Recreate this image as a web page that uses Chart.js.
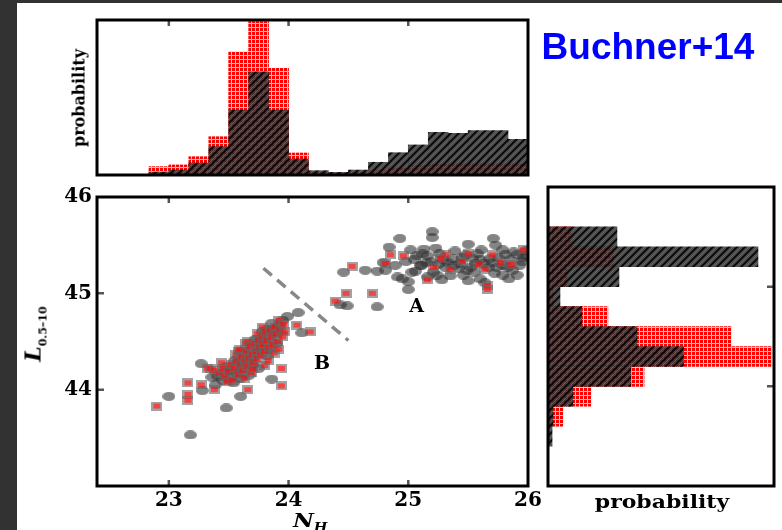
<!DOCTYPE html>
<html>
<head>
<meta charset="utf-8">
<script src="https://cdn.jsdelivr.net/npm/chart.js@4.4.1/dist/chart.umd.min.js"></script>
<style>
html,body{margin:0;padding:0;background:#323232;width:782px;height:530px;overflow:hidden;}
#page{position:absolute;left:17px;top:3px;width:765px;height:527px;background:#fff;}
.box{position:absolute;}
.lbl{position:absolute;font-family:'DejaVu Serif',serif;font-weight:bold;color:#000;white-space:nowrap;}
#title{position:absolute;left:648px;top:28px;transform:translateX(-50%);font-family:'Liberation Sans',Arial,sans-serif;font-weight:bold;font-size:37px;line-height:37px;color:#0000ff;white-space:nowrap;}
</style>
</head>
<body>
<div id="page"></div>
<div class="box" style="left:0;top:0;width:545px;height:182px"><canvas id="cTop"></canvas></div>
<div class="box" style="left:0;top:180px;width:545px;height:350px"><canvas id="cMain"></canvas></div>
<div class="box" style="left:540px;top:180px;width:242px;height:350px"><canvas id="cRight"></canvas></div>
<div id="title">Buchner+14</div>
<div class="lbl" style="left:79px;top:98px;font-size:16px;transform:translate(-50%,-50%) rotate(-90deg)">probability</div>
<div class="lbl" style="left:662px;top:501px;font-size:18px;transform:translate(-50%,-50%) scaleX(1.22)">probability</div>
<div class="lbl" style="left:293px;top:510px;line-height:20px;transform-origin:left top;transform:scaleX(1.2)"><i style="font-size:19px">N</i><i style="font-size:12px;position:relative;top:5px">H</i></div>
<div class="lbl" style="left:35px;top:334px;line-height:22px;transform:translate(-50%,-50%) rotate(-90deg)"><i style="font-size:22px">L</i><span style="font-size:11px;position:relative;top:6px">0.5–10</span></div>

<script>
// ---------- data ----------
// top histogram: N_H bin centres (bin width 1/6 dex) and relative probabilities
const nhBinCenters = [22.417,22.583,22.75,22.917,23.083,23.25,23.417,23.583,23.75,23.917,24.083,24.25,24.417,24.583,24.75,24.917,25.083,25.25,25.417,25.583,25.75,25.917];
const redTop   = [0.004,0.004,0.004,0.054,0.065,0.118,0.247,0.795,0.99,0.688,0.142,0.02,0.013,0.02,0.03,0.05,0.06,0.07,0.075,0.075,0.075,0.075];
const blackTop = [0.004,0.004,0.004,0.019,0.032,0.077,0.183,0.419,0.666,0.419,0.103,0.028,0.017,0.032,0.082,0.144,0.194,0.275,0.269,0.286,0.286,0.23];

// right histogram: L bin centres (bin width 0.2) and relative probabilities
const lBinCenters = [43.5,43.7,43.9,44.1,44.3,44.5,44.7,44.9,45.1,45.3,45.5];
const redRight    = [0,0.066,0.19,0.425,0.99,0.81,0.265,0.022,0.088,0.288,0.106];
const blackRight  = [0.018,0.022,0.11,0.367,0.60,0.394,0.15,0.053,0.314,0.929,0.305];

// scatter: [N_H, L]
const greyPoints = [
 [23.18,43.53],[23.00,43.93],[23.27,44.27],[23.28,43.99],[23.48,43.81],[23.60,43.93],[23.86,44.11],
 [24.08,44.80],[24.11,44.59],[23.99,44.76],
 [23.36,44.13],[23.41,44.14],[23.39,44.05],[23.45,44.10],[23.50,44.12],[23.54,44.07],[23.57,44.17],[23.62,44.22],
 [23.66,44.30],[23.70,44.26],[23.73,44.38],[23.77,44.42],[23.80,44.50],[23.84,44.55],[23.88,44.62],[23.92,44.66],
 [23.95,44.72],[23.86,44.69],[23.78,44.60],[23.69,44.45],[23.63,44.36],[23.58,44.28],[23.52,44.20],[23.47,44.18],
 [23.75,44.22],[23.82,44.35],[23.90,44.48],[23.60,44.12],[23.67,44.15],[23.72,44.52],[23.84,44.42],
 [23.55,44.30],[23.62,44.40],[23.76,44.50],[23.82,44.62],[23.70,44.34],[23.48,44.24],[23.90,44.58],
 [24.43,44.88],[24.49,44.87],[24.74,44.86],[24.46,45.22],[24.64,45.24],[24.74,45.23],[24.79,45.32],[24.81,45.24],
 [24.84,45.48],[24.93,45.57],[24.89,45.29],[24.98,45.33],[25.02,45.45],[25.07,45.39],[25.03,45.22],[24.91,45.17],
 [24.95,45.15],[25.00,45.12],[25.00,45.04],[25.10,45.29],
 [25.20,45.64],[25.20,45.58],[25.71,45.57],[25.73,45.50],[25.50,45.51],[25.13,45.46],[25.23,45.47],[25.39,45.44],
 [25.61,45.45],[25.79,45.45],[25.91,45.40],[25.98,45.44],[25.16,45.39],[25.29,45.35],[25.45,45.37],[25.60,45.35],
 [25.75,45.37],[25.85,45.35],[25.11,45.29],[25.38,45.29],[25.52,45.27],[25.67,45.27],[25.79,45.29],[25.93,45.29],
 [25.21,45.22],[25.46,45.19],[25.79,45.19],[25.91,45.19],[25.16,45.17],[25.28,45.14],[25.60,45.15],[25.64,45.11],
 [25.99,45.39],[25.33,45.32],[25.42,45.26],[25.56,45.31],[25.70,45.32],[25.83,45.27],[25.95,45.33],[25.25,45.30],
 [25.48,45.40],[25.88,45.43],[25.35,45.18],[25.55,45.22],[25.72,45.21],[25.06,45.23],[25.15,45.32],
 [25.05,45.35],[25.12,45.41],[25.19,45.33],[25.26,45.41],[25.31,45.27],[25.37,45.36],[25.43,45.31],[25.49,45.24],
 [25.54,45.36],[25.58,45.41],[25.63,45.31],[25.68,45.36],[25.74,45.27],[25.81,45.40],[25.87,45.24],[25.96,45.37],
 [25.24,45.19],[25.50,45.13],[25.84,45.15]
];
const redPoints = [
 [22.90,43.83],[23.16,44.07],[23.16,43.95],[23.16,43.89],[23.27,44.05],[23.38,44.00],[23.32,44.22],[23.66,44.00],
 [23.94,44.04],[23.94,44.22],[24.18,44.60],[24.07,44.67],
 [23.35,44.22],[23.38,44.20],[23.42,44.17],[23.44,44.28],[23.45,44.22],[23.47,44.14],[23.49,44.08],[23.50,44.19],
 [23.52,44.26],[23.53,44.10],[23.55,44.22],[23.56,44.36],[23.57,44.30],[23.58,44.16],[23.58,44.40],[23.59,44.42],
 [23.60,44.25],[23.61,44.34],[23.62,44.20],[23.63,44.12],[23.64,44.29],[23.64,44.48],[23.65,44.40],[23.66,44.24],
 [23.66,44.50],[23.67,44.33],[23.68,44.45],[23.69,44.18],[23.70,44.37],[23.70,44.22],[23.71,44.28],[23.72,44.48],
 [23.73,44.40],[23.74,44.32],[23.74,44.58],[23.75,44.52],[23.76,44.44],[23.77,44.36],[23.78,44.56],[23.78,44.65],
 [23.79,44.47],[23.80,44.40],[23.80,44.25],[23.81,44.60],[23.82,44.51],[23.83,44.30],[23.84,44.44],[23.85,44.62],
 [23.86,44.55],[23.87,44.47],[23.88,44.38],[23.89,44.65],[23.90,44.58],[23.91,44.50],[23.92,44.42],[23.92,44.72],
 [23.93,44.62],[23.95,44.55],[23.96,44.68],[23.97,44.60],
 [24.39,44.92],[24.48,45.00],[24.53,45.28],[24.70,45.00],[24.81,45.31],[24.85,45.40],[24.96,45.39],[25.31,45.40],
 [25.50,45.41],[25.70,45.40],[25.45,45.33],[25.59,45.30],[25.77,45.32],[25.21,45.27],[25.35,45.25],[25.64,45.25],
 [25.16,45.14],[25.66,45.08],[25.66,45.04],[25.27,45.36],[25.86,45.30],[25.96,45.45]
];
const dividerLine = [[23.79,45.26],[24.50,44.51]];
const regionLabels = [{text:'A', nh:25.07, l:44.86},{text:'B', nh:24.28, l:44.27}];

const xTickValues = [23,24,25,26];
const yTickValues = [44,45,46];
const xInnerTicks = [23,24,25];
const yInnerTicks = [44,45];

// ---------- styles ----------
const SERIF = "'DejaVu Serif', serif";
function makeRedPattern(){
  const c=document.createElement('canvas'); c.width=4; c.height=4;
  const g=c.getContext('2d');
  g.fillStyle='#ff0000'; g.fillRect(0,0,4,4);
  g.fillStyle='rgba(255,255,255,0.75)'; g.fillRect(3,0,1,4); g.fillRect(0,3,3,1);
  return g.createPattern(c,'repeat');
}
function makeBlackPattern(){
  const c=document.createElement('canvas'); c.width=8; c.height=8;
  const g=c.getContext('2d');
  g.fillStyle='rgba(50,50,50,0.88)'; g.fillRect(0,0,8,8);
  g.lineCap='square';
  g.strokeStyle='rgba(0,0,0,0.95)'; g.lineWidth=1.6;
  [[-1,9,9,-1],[-3,3,3,-3],[5,11,11,5]].forEach(s=>{g.beginPath();g.moveTo(s[0],s[1]);g.lineTo(s[2],s[3]);g.stroke();});
  g.strokeStyle='rgba(120,120,120,0.7)'; g.lineWidth=0.8;
  [[-1,5,5,-1],[3,9,9,3]].forEach(s=>{g.beginPath();g.moveTo(s[0],s[1]);g.lineTo(s[2],s[3]);g.stroke();});
  return g.createPattern(c,'repeat');
}
function makeEllipse(){
  const c=document.createElement('canvas'); c.width=13; c.height=9;
  const g=c.getContext('2d');
  g.fillStyle='rgba(50,50,50,0.6)';
  g.beginPath(); g.ellipse(6.5,4.5,6.5,4.5,0,0,Math.PI*2); g.fill();
  return c;
}
function makeSquare(){
  const c=document.createElement('canvas'); c.width=11; c.height=9;
  const g=c.getContext('2d');
  g.fillStyle='rgba(100,100,100,0.6)'; g.fillRect(0,0,11,9);
  g.clearRect(2,2,7,5);
  g.fillStyle='rgba(235,25,25,0.8)'; g.fillRect(2,2,7,5);
  return c;
}
const redPat = makeRedPattern();
const blackPat = makeBlackPattern();
const ellipseImg = makeEllipse();
const squareImg = makeSquare();

function makeFrame(cfg){
  return {
    id:'frame',
    afterDatasetsDraw(chart){
      const a=chart.chartArea, ctx=chart.ctx, sx=chart.scales.x, sy=chart.scales.y;
      ctx.save();
      ctx.strokeStyle='#555'; ctx.lineWidth=2.5;
      ctx.beginPath();
      (cfg.xTicks||[]).forEach(v=>{
        const p=sx.getPixelForValue(v);
        if(cfg.xTop){ctx.moveTo(p,a.top);ctx.lineTo(p,a.top+6);}
        if(cfg.xBottom){ctx.moveTo(p,a.bottom);ctx.lineTo(p,a.bottom-6);}
      });
      (cfg.yTicks||[]).forEach(v=>{
        const p=sy.getPixelForValue(v);
        if(cfg.yLeft){ctx.moveTo(a.left,p);ctx.lineTo(a.left+7,p);}
        if(cfg.yRight){ctx.moveTo(a.right,p);ctx.lineTo(a.right-7,p);}
      });
      ctx.stroke();
      ctx.strokeStyle='#000'; ctx.lineWidth=3;
      ctx.strokeRect(a.left,a.top,a.right-a.left,a.bottom-a.top);
      (cfg.labels||[]).forEach(t=>{
        ctx.font="bold 19px 'DejaVu Serif'"; ctx.fillStyle='#000';
        ctx.textAlign='center'; ctx.textBaseline='middle';
        ctx.fillText(t.text, sx.getPixelForValue(t.nh), sy.getPixelForValue(t.l));
      });
      ctx.restore();
    }
  };
}
const common = {responsive:true, maintainAspectRatio:false, animation:false, events:[],
  plugins:{legend:{display:false}, tooltip:{enabled:false}}};

// ---------- top histogram ----------
new Chart(document.getElementById('cTop'), {
  type:'bar',
  data:{datasets:[
    {data:nhBinCenters.map((x,i)=>({x:x,y:blackTop[i]})), backgroundColor:blackPat, borderWidth:0, order:0},
    {data:nhBinCenters.map((x,i)=>({x:x,y:redTop[i]})), backgroundColor:redPat, borderWidth:0, order:1}
  ]},
  options:Object.assign({}, common, {
    layout:{padding:{left:97,top:20,right:17,bottom:7}},
    datasets:{bar:{barPercentage:1,categoryPercentage:1,grouped:false}},
    scales:{
      x:{type:'linear',min:22.4,max:26,offset:false,display:false},
      y:{type:'linear',min:0,max:1,display:false}
    }
  }),
  plugins:[makeFrame({xTicks:xInnerTicks,xTop:true})]
});

// ---------- main scatter ----------
const tickFont = {family:SERIF, size:20, weight:'bold'};
new Chart(document.getElementById('cMain'), {
  type:'scatter',
  data:{datasets:[
    {type:'line', data:dividerLine.map(p=>({x:p[0],y:p[1]})), borderColor:'rgba(130,130,130,0.95)', borderWidth:3.5,
     borderDash:[11,7], pointRadius:0, fill:false, showLine:true, order:2},
    {data:greyPoints.map(p=>({x:p[0],y:p[1]})), pointStyle:ellipseImg, pointRadius:5, order:1},
    {data:redPoints.map(p=>({x:p[0],y:p[1]})), pointStyle:squareImg, pointRadius:5, order:0}
  ]},
  options:Object.assign({}, common, {
    layout:{padding:{left:37,top:7,right:17,bottom:14}},
    scales:{
      x:{type:'linear',min:22.4,max:26,
         afterBuildTicks:s=>{s.ticks=xTickValues.map(v=>({value:v}));},
         afterFit:s=>{s.height=30;},
         grid:{display:false,drawTicks:false}, border:{display:false},
         ticks:{font:tickFont,color:'#000',padding:3,maxRotation:0,autoSkip:false}},
      y:{type:'linear',min:43,max:46,
         afterBuildTicks:s=>{s.ticks=yTickValues.map(v=>({value:v}));},
         afterFit:s=>{s.width=60;},
         grid:{display:false,drawTicks:false}, border:{display:false},
         ticks:{font:tickFont,color:'#000',padding:5,autoSkip:false}}
    }
  }),
  plugins:[makeFrame({xTicks:xInnerTicks,xTop:true,xBottom:true,yTicks:yInnerTicks,yLeft:true,labels:regionLabels})]
});

// ---------- right histogram ----------
new Chart(document.getElementById('cRight'), {
  type:'bar',
  data:{datasets:[
    {data:lBinCenters.map((y,i)=>({x:blackRight[i],y:y})), backgroundColor:blackPat, borderWidth:0, order:0},
    {data:lBinCenters.map((y,i)=>({x:redRight[i],y:y})), backgroundColor:redPat, borderWidth:0, order:1}
  ]},
  options:Object.assign({}, common, {
    indexAxis:'y',
    layout:{padding:{left:8,top:7,right:8,bottom:44}},
    datasets:{bar:{barPercentage:1,categoryPercentage:1,grouped:false}},
    scales:{
      y:{type:'linear',min:43,max:46,offset:false,display:false},
      x:{type:'linear',min:0,max:1,display:false}
    }
  }),
  plugins:[makeFrame({yTicks:yInnerTicks,yRight:true})]
});
</script>
</body>
</html>
